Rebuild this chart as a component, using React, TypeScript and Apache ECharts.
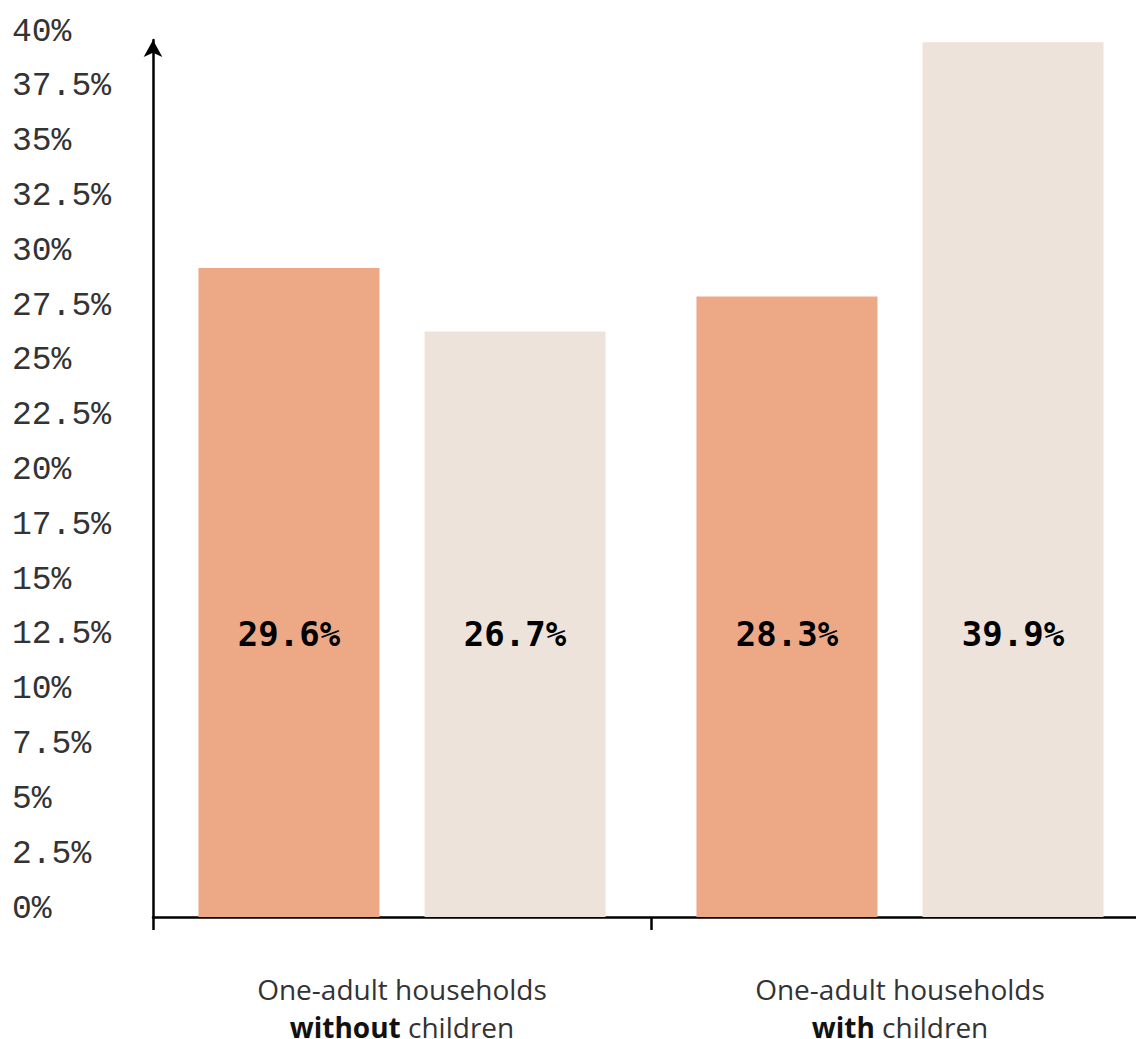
import React, { useEffect, useRef } from "react";
import * as echarts from "echarts";

const categories = ["without", "with"];
const seriesNames = ["Series 1", "Series 2"];
const series1Values = [29.6, 28.3];
const series2Values = [26.7, 39.9];
const colors = ["#EDA886", "#EDE3DA"];

export default function App() {
  const ref = useRef<HTMLDivElement>(null);
  useEffect(() => {
    if (!ref.current) return;
    const chart = echarts.init(ref.current, undefined, { renderer: "svg" });
    const mono = "'DejaVu Sans Mono', monospace";
    const sans = "'Open Sans', sans-serif";
    const valueLabel = {
      show: true,
      position: "insideBottom",
      distance: 266,
      formatter: "{c}%",
      fontFamily: mono,
      fontWeight: "bold",
      fontSize: 34,
      color: "#000",
    };
    chart.setOption({
      animation: false,
      grid: {
        left: 153,
        top: 40,
        width: 996,
        height: 877,
        containLabel: false,
        outerBoundsMode: "none",
      },
      xAxis: {
        type: "category",
        data: categories,
        axisLine: { show: true, lineStyle: { color: "#000", width: 2.5 } },
        axisTick: { show: true, length: 13, lineStyle: { color: "#000", width: 2.5 } },
        axisLabel: {
          margin: 48,
          formatter: (v: string) => `{n|One-adult households}\n{b|${v}}{m| children}`,
          rich: {
            n: { fontFamily: sans, fontSize: 28, color: "#333", lineHeight: 48 },
            b: { fontFamily: sans, fontSize: 28, fontWeight: "bold", color: "#111", lineHeight: 28 },
            m: { fontFamily: sans, fontSize: 28, color: "#333", lineHeight: 28 },
          },
        },
      },
      yAxis: {
        type: "value",
        min: 0,
        max: 40,
        interval: 2.5,
        splitLine: { show: false },
        axisTick: { show: false },
        axisLine: {
          show: true,
          symbol: ["none", "arrow"],
          symbolSize: [14, 17],
          lineStyle: { color: "#000", width: 2.5 },
        },
        axisLabel: {
          align: "left",
          verticalAlign: "bottom",
          lineHeight: 16,
          margin: 141,
          formatter: (v: number) => `${v}%`,
          fontFamily: "'Liberation Mono', 'DejaVu Sans Mono', monospace",
          fontSize: 33,
          color: "#333",
        },
      },
      series: [
        {
          name: seriesNames[0],
          type: "bar",
          data: series1Values,
          barWidth: 181,
          barGap: "24.9%",
          itemStyle: { color: colors[0] },
          label: valueLabel,
        },
        {
          name: seriesNames[1],
          type: "bar",
          data: series2Values,
          barWidth: 181,
          barGap: "24.9%",
          itemStyle: { color: colors[1] },
          label: valueLabel,
        },
      ],
    });
    return () => chart.dispose();
  }, []);
  return (
    <div
      ref={ref}
      style={{ position: "absolute", left: 0, top: 0, width: 1136, height: 1039 }}
    />
  );
}
